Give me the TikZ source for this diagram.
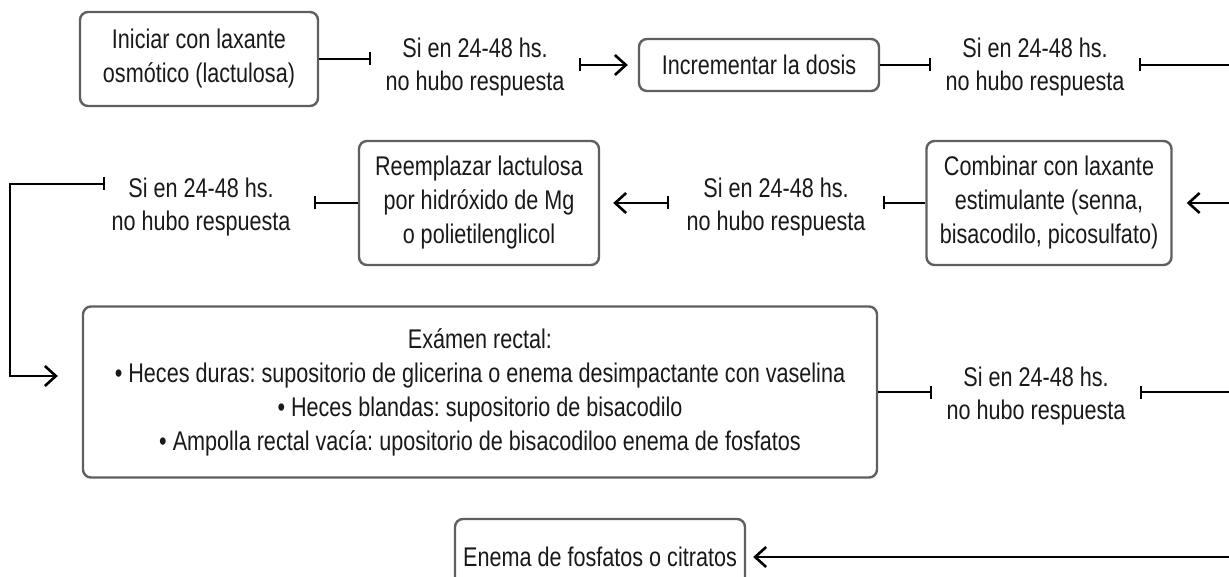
\documentclass[tikz,border=0pt]{standalone}
\usepackage{fontspec}
\setmainfont{Liberation Sans}[FakeStretch=0.80]
\usetikzlibrary{arrows.meta}
\definecolor{boxgray}{RGB}{95,95,95}
\definecolor{txt}{RGB}{25,25,25}
\tikzset{
  ebar/.tip={Bar[width=13pt]},
  earw/.tip={Straight Barb[length=11pt,width=20pt]},
}
\frenchspacing
\begin{document}
\frenchspacing
\begin{tikzpicture}[x=1pt,y=-1pt,
  box/.style={draw=boxgray, line width=2.4pt, rounded corners=8pt, align=center,
    font=\fontsize{27}{34}\selectfont, inner sep=0pt, text=txt},
  lab/.style={align=center, font=\fontsize{27}{33}\selectfont, inner xsep=14pt,
    inner ysep=0pt, text=txt},
  conn/.style={line width=2.6pt, black},
]
\useasboundingbox (0,0) rectangle (1229,577);

% nodes
\node[box, minimum width=238pt, minimum height=94pt] (b1) at (199,59)
  {Iniciar con laxante\\osmótico (lactulosa)};
\node[lab] (l1) at (475,67) {Si en 24-48 hs.\\no hubo respuesta};
\node[box, minimum width=240pt, minimum height=52pt] (b2) at (759,65)
  {Incrementar la dosis};
\node[lab] (l2) at (1035,67) {Si en 24-48 hs.\\no hubo respuesta};
\node[box, minimum width=245pt, minimum height=124pt] (b3) at (1049,203)
  {Combinar con laxante\\estimulante (senna,\\bisacodilo, picosulfato)};
\node[lab, inner xsep=17pt] (l3) at (776,207) {Si en 24-48 hs.\\no hubo respuesta};
\node[box, minimum width=240pt, minimum height=124pt] (b4) at (479,203)
  {Reemplazar lactulosa\\por hidróxido de Mg\\o polietilenglicol};
\node[lab] (l4) at (201,207) {Si en 24-48 hs.\\no hubo respuesta};
\node[box, minimum width=794pt, minimum height=171pt] (b5) at (480,392)
  {Exámen rectal:\\
   • Heces duras: supositorio de glicerina o enema desimpactante con vaselina\\
   • Heces blandas: supositorio de bisacodilo\\
   • Ampolla rectal vacía: upositorio de bisacodiloo enema de fosfatos};
\node[lab] (l5) at (1036,396) {Si en 24-48 hs.\\no hubo respuesta};
\node[box, minimum width=290pt, minimum height=76pt] (b6) at (600,557)
  {Enema de fosfatos o citratos};

% helper coordinates
\coordinate (r1) at (1250,65);
\coordinate (r2) at (1250,392);
\coordinate (l4t) at ([xshift=8pt,yshift=23pt]l4.west);
\coordinate (lb) at (10,376);

% connectors
\draw[conn, -ebar] (b1.east) -- (b1.east -| l1.west);
\draw[conn, ebar-earw, shorten >=10pt] (l1.east |- b2.west) -- (b2.west);
\draw[conn, -ebar] (b2.east) -- (b2.east -| l2.west);
\draw[conn, ebar-earw, shorten >=14pt] (l2.east |- b2.east) -- (r1) |- (b3.east);
\draw[conn, -ebar] (b3.west) -- (b3.west -| l3.east);
\draw[conn, ebar-earw, shorten >=13pt] (l3.west |- b4.east) -- (b4.east);
\draw[conn, -ebar, shorten >=9pt] (b4.west) -- (b4.west -| l4.east);
\draw[conn, ebar-earw, shorten >=24pt] (l4t) -| (lb) -- (lb -| b5.west);
\draw[conn, -ebar] (b5.east) -- (b5.east -| l5.west);
\draw[conn, ebar-earw, shorten >=7pt] (l5.east |- b5.east) -- (r2) |- (b6.east);
\end{tikzpicture}
\end{document}
